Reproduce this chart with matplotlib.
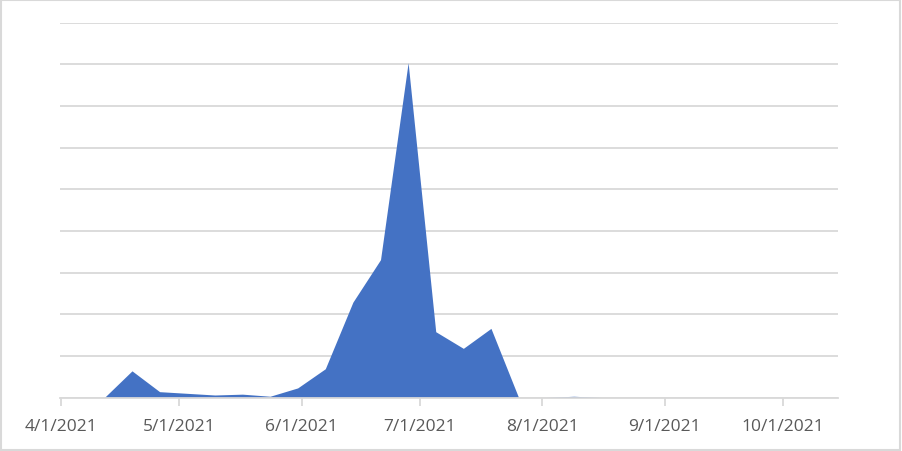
import matplotlib
matplotlib.use("Agg")
import matplotlib.pyplot as plt
import matplotlib.dates as mdates
import numpy as np
import datetime as dt

plt.rcParams['font.family'] = ['Open Sans', 'DejaVu Sans']

dates = ["2021-04-12", "2021-04-19", "2021-04-26", "2021-05-03", "2021-05-10",
         "2021-05-17", "2021-05-24", "2021-05-31", "2021-06-07", "2021-06-14",
         "2021-06-21", "2021-06-28", "2021-07-05", "2021-07-12", "2021-07-19",
         "2021-07-26", "2021-08-02", "2021-08-09", "2021-08-16"]
values = [0, 6.4, 1.4, 1.0, 0.6, 0.8, 0.3, 2.3, 6.9, 22.9,
          33.1, 80.4, 15.8, 11.8, 16.6, 0, 0, 0.3, 0]
tick_labels = ["4/1/2021", "5/1/2021", "6/1/2021", "7/1/2021",
               "8/1/2021", "9/1/2021", "10/1/2021"]
tick_dates = ["2021-04-01", "2021-05-01", "2021-06-01", "2021-07-01",
              "2021-08-01", "2021-09-01", "2021-10-01"]

x = mdates.date2num([dt.date.fromisoformat(d) for d in dates])
tx = mdates.date2num([dt.date.fromisoformat(d) for d in tick_dates])

fig = plt.figure(figsize=(9.02, 4.52), dpi=100)
ax = fig.add_axes([60/902, 1 - 398.5/452, (837.7-60)/902, (398.5-23.7)/452])

ax.fill_between(x, values, 0, color="#4472C4", linewidth=0)

x0 = mdates.date2num(dt.date(2021, 4, 1))
ax.set_xlim(x0 - 0.25, x0 + 196.9)
ax.set_ylim(0, 90)
ax.set_yticks(np.arange(0, 91, 10))
ax.yaxis.grid(True, color="#D9D9D9", linewidth=1.3)
ax.set_axisbelow(True)
ax.tick_params(axis='y', left=False, labelleft=False)

ax.set_xticks(tx)
ax.set_xticklabels(tick_labels)
ax.tick_params(axis='x', direction='out', length=6, width=1.3, color="#D9D9D9",
               labelcolor="#595959", labelsize=12.5, pad=9)
for s in ['top', 'right', 'left']:
    ax.spines[s].set_visible(False)
ax.spines['bottom'].set_color("#D9D9D9")
ax.spines['bottom'].set_linewidth(1.3)

# outer border
fig.patches.append(plt.Rectangle((0.001, 0.002), 0.997, 0.996, transform=fig.transFigure,
                                 fill=False, edgecolor="#D9D9D9", linewidth=1.5))

fig.savefig("out.png", dpi=100)
